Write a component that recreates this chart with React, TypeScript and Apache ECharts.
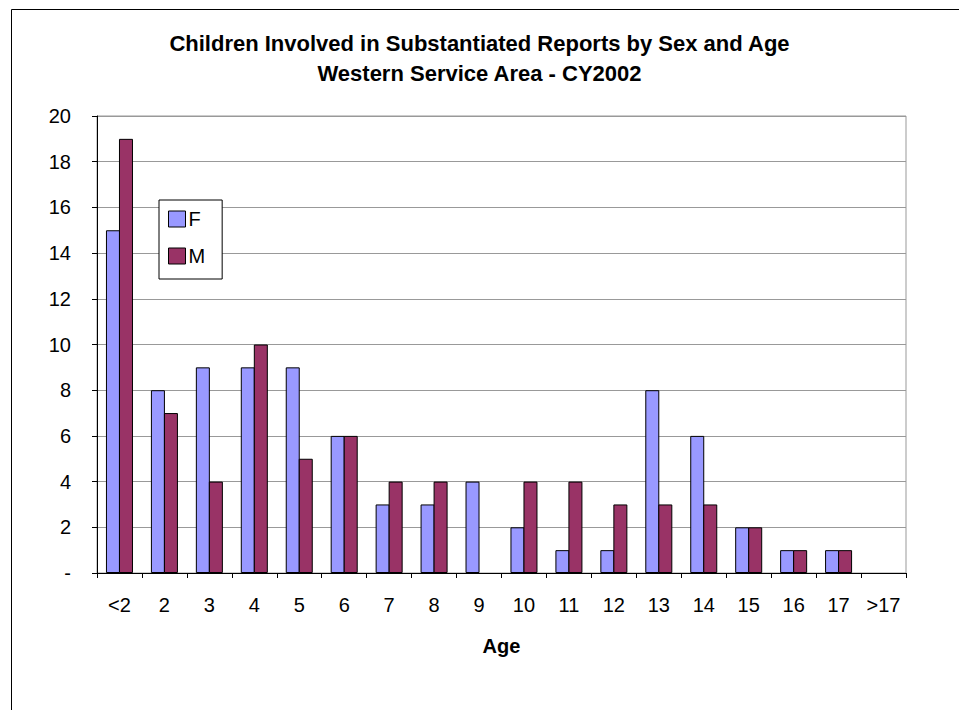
import React, { useEffect, useRef } from "react";
import * as echarts from "echarts";

const categories = ["<2", "2", "3", "4", "5", "6", "7", "8", "9", "10", "11", "12", "13", "14", "15", "16", "17", ">17"];
const femaleValues = [15, 8, 9, 9, 9, 6, 3, 3, 4, 2, 1, 1, 8, 6, 2, 1, 1, 0];
const maleValues = [19, 7, 4, 10, 5, 6, 4, 4, 0, 4, 4, 3, 3, 3, 2, 1, 1, 0];
const titleLines = ["Children Involved in Substantiated Reports by Sex and Age", "Western Service Area - CY2002"];

const FONT = "'Liberation Sans', Arial, sans-serif";

// zero-height bars are not drawn (no outline) in the reference
const toBarData = (vals: number[]) => vals.map((v) => (v === 0 ? null : v));

export default function App() {
  const ref = useRef<HTMLDivElement>(null);
  useEffect(() => {
    document.body.style.margin = "0";
    const chart = echarts.init(ref.current!, null, { renderer: "svg" });
    chart.setOption({
      animation: false,
      backgroundColor: "#fff",
      textStyle: { fontFamily: FONT },
      title: {
        text: titleLines.join("\n"),
        left: "center",
        top: 23,
        textStyle: { fontFamily: FONT, fontSize: 22, fontWeight: "bold", color: "#000", lineHeight: 30 },
      },
      graphic: [
        {
          type: "rect",
          shape: { x: 11.5, y: 9.5, width: 2000, height: 2000 },
          style: { fill: "none", stroke: "#000", lineWidth: 1 },
          silent: true,
        },
      ],
      legend: {
        orient: "vertical",
        left: 159,
        top: 200,
        padding: [9, 17, 13, 9],
        itemGap: 17,
        itemWidth: 17,
        itemHeight: 16,
        borderColor: "#000",
        borderWidth: 1,
        backgroundColor: "#fff",
        icon: "rect",
        textStyle: { fontFamily: FONT, fontSize: 20, color: "#000", padding: [0, 0, 0, -2] },
        itemStyle: { borderColor: "#000", borderWidth: 1 },
        data: ["F", "M"],
      },
      grid: { left: 97, top: 116, right: 53, bottom: 137, show: true, borderColor: "#999", borderWidth: 1 },
      xAxis: {
        type: "category",
        data: categories,
        name: "Age",
        nameLocation: "middle",
        nameGap: 63,
        nameTextStyle: { fontFamily: FONT, fontSize: 20, fontWeight: "bold", color: "#000" },
        axisLine: { lineStyle: { color: "#000", width: 1 } },
        axisTick: { show: true, length: 5, lineStyle: { color: "#000" } },
        axisLabel: { fontFamily: FONT, fontSize: 20, color: "#000", margin: 22, interval: 0 },
      },
      yAxis: {
        type: "value",
        min: 0,
        max: 20,
        interval: 2,
        axisLine: { show: true, lineStyle: { color: "#000", width: 1 } },
        axisTick: { show: true, length: 5, lineStyle: { color: "#000" } },
        axisLabel: {
          fontFamily: FONT,
          fontSize: 20,
          color: "#000",
          margin: 26,
          formatter: (v: number) => (v === 0 ? "-" : String(v)),
        },
        splitLine: { show: true, lineStyle: { color: "#999", width: 1 } },
      },
      series: [
        {
          name: "F",
          type: "bar",
          data: toBarData(femaleValues),
          barWidth: 14,
          barGap: "-7%",
          itemStyle: { color: "#9999FF", borderColor: "#000", borderWidth: 1 },
        },
        {
          name: "M",
          type: "bar",
          data: toBarData(maleValues),
          barWidth: 14,
          barGap: "-7%",
          itemStyle: { color: "#993366", borderColor: "#000", borderWidth: 1 },
        },
      ],
    });
    return () => chart.dispose();
  }, []);
  return <div ref={ref} style={{ width: 959, height: 710 }} />;
}
